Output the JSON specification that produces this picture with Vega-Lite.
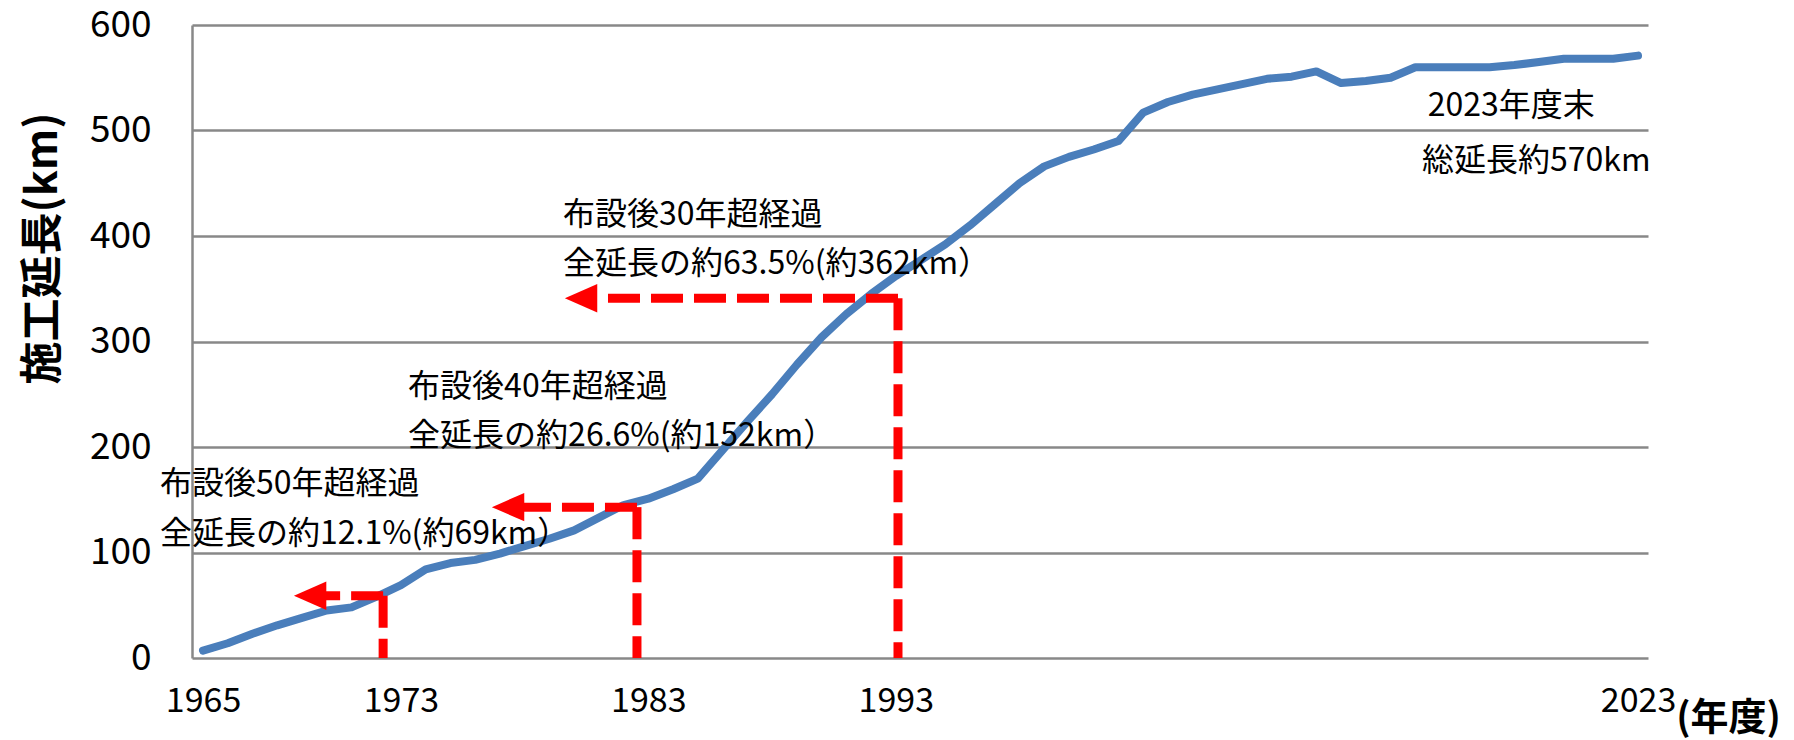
{
  "$schema": "https://vega.github.io/schema/vega-lite/v6.json",
  "width": 1456,
  "height": 633,
  "autosize": {"type": "none"},
  "padding": {"left": 192, "top": 25, "right": 146, "bottom": 82},
  "background": "white",
  "config": {
    "view": {"stroke": null},
    "font": "Noto Sans CJK JP"
  },
  "datasets": {
    "series": [
      {"year": 1965, "km": 7}, {"year": 1966, "km": 14}, {"year": 1967, "km": 23}, {"year": 1968, "km": 31},
      {"year": 1969, "km": 38}, {"year": 1970, "km": 45}, {"year": 1971, "km": 48}, {"year": 1972, "km": 58},
      {"year": 1973, "km": 69}, {"year": 1974, "km": 84}, {"year": 1975, "km": 90}, {"year": 1976, "km": 93},
      {"year": 1977, "km": 99}, {"year": 1978, "km": 106}, {"year": 1979, "km": 113}, {"year": 1980, "km": 121},
      {"year": 1981, "km": 133}, {"year": 1982, "km": 145}, {"year": 1983, "km": 151}, {"year": 1984, "km": 160},
      {"year": 1985, "km": 170}, {"year": 1986, "km": 197}, {"year": 1987, "km": 224}, {"year": 1988, "km": 250},
      {"year": 1989, "km": 278}, {"year": 1990, "km": 304}, {"year": 1991, "km": 326}, {"year": 1992, "km": 345},
      {"year": 1993, "km": 362}, {"year": 1994, "km": 377}, {"year": 1995, "km": 392}, {"year": 1996, "km": 410},
      {"year": 1997, "km": 430}, {"year": 1998, "km": 450}, {"year": 1999, "km": 466}, {"year": 2000, "km": 475},
      {"year": 2001, "km": 482}, {"year": 2002, "km": 490}, {"year": 2003, "km": 517}, {"year": 2004, "km": 527},
      {"year": 2005, "km": 534}, {"year": 2006, "km": 539}, {"year": 2007, "km": 544}, {"year": 2008, "km": 549},
      {"year": 2009, "km": 551}, {"year": 2010, "km": 556}, {"year": 2011, "km": 545}, {"year": 2012, "km": 547},
      {"year": 2013, "km": 550}, {"year": 2014, "km": 560}, {"year": 2015, "km": 560}, {"year": 2016, "km": 560},
      {"year": 2017, "km": 560}, {"year": 2018, "km": 562}, {"year": 2019, "km": 565}, {"year": 2020, "km": 568},
      {"year": 2021, "km": 568}, {"year": 2022, "km": 568}, {"year": 2023, "km": 571}
    ],
    "guides": [
      {"x1": 1972.28, "x2": 1972.28, "y1": 59, "y2": 0},
      {"x1": 1972.28, "x2": 1969.8, "y1": 59, "y2": 59},
      {"x1": 1982.54, "x2": 1982.54, "y1": 143, "y2": 0},
      {"x1": 1982.54, "x2": 1977.8, "y1": 143, "y2": 143},
      {"x1": 1993.09, "x2": 1993.09, "y1": 341, "y2": 0},
      {"x1": 1993.09, "x2": 1980.75, "y1": 341, "y2": 341}
    ],
    "arrows": [
      {"x": 1969.33, "y": 59},
      {"x": 1977.33, "y": 143},
      {"x": 1980.28, "y": 341}
    ],
    "notes": [
      {"label": "布設後30年超経過", "x": 1979.55, "y": 420},
      {"label": "全延長の約63.5%(約362km）", "x": 1979.55, "y": 373.7},
      {"label": "布設後40年超経過", "x": 1973.29, "y": 257},
      {"label": "全延長の約26.6%(約152km）", "x": 1973.29, "y": 210},
      {"label": "布設後50年超経過", "x": 1963.26, "y": 164.6},
      {"label": "全延長の約12.1%(約69km）", "x": 1963.26, "y": 118},
      {"label": "2023年度末", "x": 2014.5, "y": 523},
      {"label": "総延長約570km", "x": 2014.27, "y": 471}
    ]
  },
  "layer": [
    {
      "data": {"name": "series"},
      "mark": {"type": "line", "color": "#4a7ebb", "strokeWidth": 8, "strokeCap": "round", "strokeJoin": "round"},
      "encoding": {
        "x": {
          "field": "year", "type": "quantitative",
          "scale": {"domain": [1964.555, 2023.404], "nice": false, "zero": false},
          "axis": {
            "values": [1965, 1973, 1983, 1993, 2023],
            "format": "d",
            "grid": false, "domain": false, "ticks": false,
            "labelFontSize": 34, "labelColor": "#000000", "labelPadding": 26,
            "labelFont": "Noto Sans CJK JP",
            "title": "(年度)",
            "titleFontSize": 38, "titleFontWeight": "bold", "titleColor": "#000000",
            "titleFont": "Noto Sans CJK JP",
            "titleX": 1536, "titleY": 60, "titleAlign": "center", "titleBaseline": "middle",
            "encode": {
              "labels": {
                "update": {
                  "dx": {"signal": "datum.value === 1965 ? 9 : datum.value === 1973 ? -22 : datum.value === 1983 ? -12 : datum.value === 1993 ? 2 : -24"}
                }
              }
            }
          }
        },
        "y": {
          "field": "km", "type": "quantitative",
          "scale": {"domain": [0, 600], "nice": false},
          "axis": {
            "values": [0, 100, 200, 300, 400, 500, 600],
            "grid": true, "gridColor": "#888888", "gridWidth": 2.5,
            "domain": true, "domainColor": "#888888", "domainWidth": 2.5,
            "ticks": false,
            "labelFontSize": 37, "labelColor": "#000000", "labelPadding": 41,
            "labelFont": "Noto Sans CJK JP",
            "title": "施工延長(km)",
            "titleFontSize": 43, "titleFontWeight": "bold", "titleColor": "#000000",
            "titleFont": "Noto Sans CJK JP",
            "titleAngle": 270,
            "titleX": -149, "titleY": 223, "titleAlign": "center", "titleBaseline": "middle"
          }
        }
      }
    },
    {
      "data": {"name": "guides"},
      "mark": {"type": "rule", "color": "#ff0000", "strokeWidth": 9, "strokeDash": [32, 11]},
      "encoding": {
        "x": {"field": "x1", "type": "quantitative"},
        "x2": {"field": "x2"},
        "y": {"field": "y1", "type": "quantitative"},
        "y2": {"field": "y2"}
      }
    },
    {
      "data": {"name": "arrows"},
      "mark": {"type": "point", "shape": "M -1 0 L 1 -0.875 L 1 0.875 Z", "filled": true, "color": "#ff0000", "opacity": 1, "size": 1050, "strokeWidth": 0},
      "encoding": {
        "x": {"field": "x", "type": "quantitative"},
        "y": {"field": "y", "type": "quantitative"}
      }
    },
    {
      "data": {"name": "notes"},
      "mark": {"type": "text", "align": "left", "baseline": "middle", "fontSize": 32, "font": "Noto Sans CJK JP", "color": "#000000"},
      "encoding": {
        "x": {"field": "x", "type": "quantitative"},
        "y": {"field": "y", "type": "quantitative"},
        "text": {"field": "label"}
      }
    }
  ]
}
